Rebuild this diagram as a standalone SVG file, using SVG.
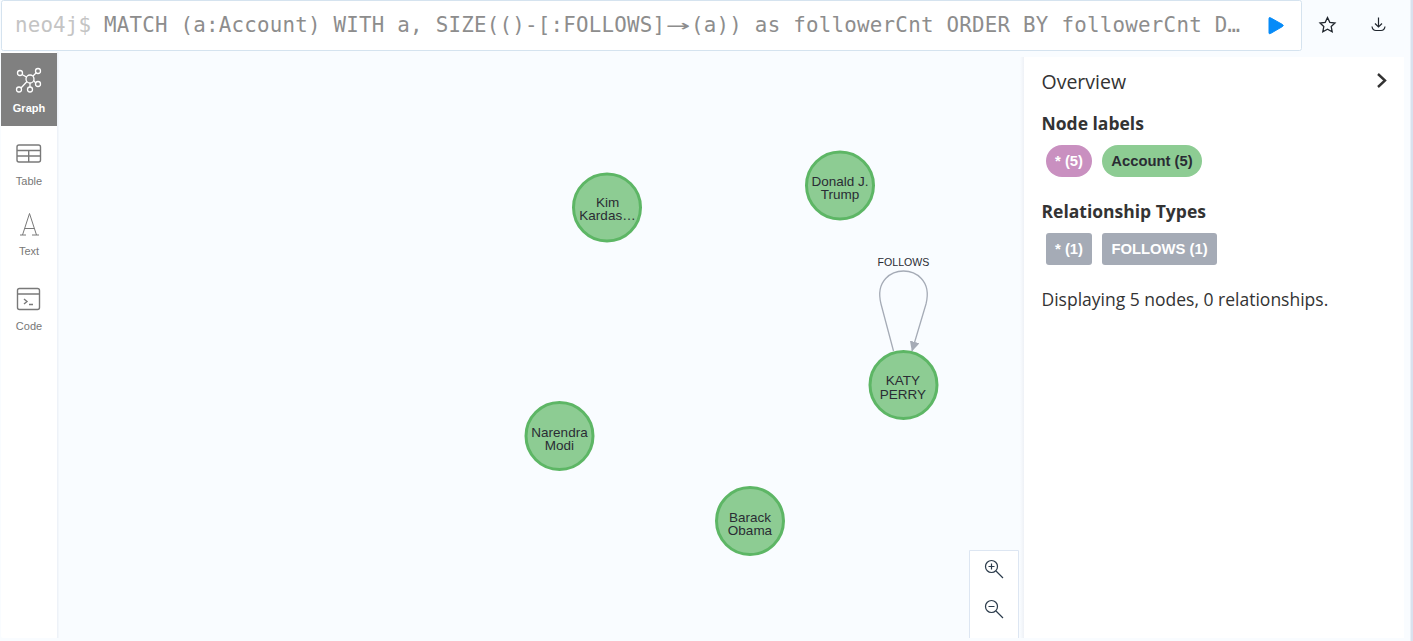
<svg xmlns="http://www.w3.org/2000/svg" width="1413" height="641" viewBox="0 0 1413 641">
<style>
.m{font-family:"DejaVu Sans Mono","Liberation Mono",monospace;font-size:20.8px;fill:#8d8d8d}
.o{font-family:"Open Sans","Noto Sans",sans-serif;fill:#333}
.s{font-family:"Liberation Sans",Arial,sans-serif}
.tab{font-size:11px;fill:#777;text-anchor:middle}
.n{fill:#8dcc93;stroke:#5db665;stroke-width:3}
.nt{font-size:13.500px;fill:#2a2c34;text-anchor:middle}
.ic{fill:none;stroke:#797979;stroke-width:1.4}
.pill{font-size:14.800px;font-weight:bold;text-anchor:middle}
.ib{fill:none;stroke:#2a3a4a;stroke-width:1.2}
</style>
<defs>
<marker id="arr" markerUnits="userSpaceOnUse" markerWidth="11" markerHeight="11" refX="9.500" refY="5" orient="auto"><path d="M0 0L10 5L0 10Z" fill="#a5abb6"/></marker>
<linearGradient id="gut"><stop offset="0" stop-color="#f9fcff"/><stop offset="1" stop-color="#eef1f6"/></linearGradient>
</defs>
<rect width="1413" height="641" fill="#f9fcff"/>
<rect x="1410.500" width="2.500" height="641" fill="#d9e1ee"/>
<g id="editor">
<rect x="1.500" y="0.500" width="1300" height="50" rx="2" fill="#fff" stroke="#d5e3ef"/>
<text class="m" x="15" y="32" textLength="76" style="fill:#c4c4c4">neo4j$</text>
<text class="m" x="104" y="32" textLength="561">MATCH (a:Account) WITH a, SIZE(()-[:FOLLOWS]</text>
<text class="m" x="666" y="32" textLength="24" lengthAdjust="spacingAndGlyphs">→</text>
<text class="m" x="691" y="32" textLength="549">(a)) as followerCnt ORDER BY followerCnt D…</text>
<path d="M1269 18.500Q1269 17 1270.500 17.800L1282.500 24.500Q1284 25.500 1282.500 26.500L1270.500 33.500Q1269 34.300 1269 33Z" fill="#068bf8" stroke="#068bf8" stroke-width="1"/>
<path d="M1327.500 17.500L1329.800 22.300L1335 23L1331.200 26.600L1332.200 31.800L1327.500 29.300L1322.800 31.800L1323.800 26.600L1320 23L1325.200 22.300Z" fill="none" stroke="#20262e" stroke-width="1.300"/>
<path d="M1378.500 17.500V26.500M1375 23.500L1378.500 27L1382 23.500M1372 26.500C1372.500 30 1374 30.500 1376 30.500H1381C1383 30.500 1384.500 30 1385 26.500" fill="none" stroke="#20262e" stroke-width="1.200"/>
</g>
<g id="sidebar">
<rect x="1" y="52" width="56.500" height="586" rx="2" fill="#fff"/>
<rect x="57" y="52" width="1.500" height="586" fill="#eef2f8"/>
<g id="tab-graph">
<rect x="1" y="53" width="56" height="73" fill="#808080"/>
<g fill="none" stroke="#fff" stroke-width="1.300">
<circle cx="30" cy="79" r="4"/><circle cx="20" cy="73" r="2.500"/><circle cx="38" cy="71" r="2.500"/><circle cx="38" cy="84" r="2.500"/><circle cx="30" cy="89.500" r="2.500"/><circle cx="19" cy="89.500" r="2.500"/>
<path d="M22 74.500L26.500 77M36.500 72.500L33 76M35.500 83L33.800 80.500M30 83V87M21 88L27 81.500"/>
</g>
<text class="s tab" x="29" y="112" style="fill:#fff;font-weight:bold">Graph</text>
</g>
<g id="tab-table">
<rect class="ic" x="17" y="145" width="23.500" height="17" rx="2"/>
<path class="ic" d="M17 150.500H40.500M17 156H40.500M28.700 150.500V162"/>
<text class="s tab" x="29" y="185">Table</text>
</g>
<g id="tab-text">
<path d="M20 235H26M32 235H39M22.500 235L29.500 213.500L36.500 235M24.500 228.500H34.500" fill="none" stroke="#797979" stroke-width="1"/>
<text class="s tab" x="29" y="255">Text</text>
</g>
<g id="tab-code">
<rect class="ic" x="17.500" y="288.500" width="22" height="21" rx="2"/>
<path class="ic" d="M17.500 294H39.500M24 299L27 301.500L24 304M29 304.500H33"/>
<text class="s tab" x="29" y="330">Code</text>
</g>
</g>
<g id="connectors">
<path d="M893.500 351L881 304C875 280 892 271 903.500 271C915 271 932 280 926 304L912 351" fill="none" stroke="#a5abb6" stroke-width="1.300" marker-end="url(#arr)"/>
<text class="s" x="903.500" y="266" font-size="10.600" fill="#2a2c34" text-anchor="middle">FOLLOWS</text>
</g>
<g id="node-kim"><circle class="n" cx="607" cy="207.500" r="33.500"/><text class="s nt" x="607.500" y="207">Kim</text><text class="s nt" x="607.500" y="220">Kardas…</text></g>
<g id="node-trump"><circle class="n" cx="840" cy="185.500" r="33.500"/><text class="s nt" x="840" y="186">Donald J.</text><text class="s nt" x="840" y="199">Trump</text></g>
<g id="node-katy"><circle class="n" cx="903.500" cy="385" r="33.500"/><text class="s nt" x="903" y="385">KATY</text><text class="s nt" x="903" y="398.500">PERRY</text></g>
<g id="node-modi"><circle class="n" cx="559.500" cy="436" r="33.500"/><text class="s nt" x="559.500" y="437">Narendra</text><text class="s nt" x="559.500" y="450">Modi</text></g>
<g id="node-obama"><circle class="n" cx="750" cy="521" r="33.500"/><text class="s nt" x="750" y="522">Barack</text><text class="s nt" x="750" y="535">Obama</text></g>
<g id="zoom-controls">
<rect x="969.500" y="550.500" width="49" height="87.500" fill="#fff"/>
<path d="M969.500 638V550.500H1018.500V638" fill="none" stroke="#dde6f2"/>
<circle class="ib" cx="991.500" cy="566.500" r="6"/><path class="ib" d="M996 571L1003 578M988.500 566.500H994.500M991.500 563.500V569.500"/>
<circle class="ib" cx="991.500" cy="606.500" r="6"/><path class="ib" d="M996 611L1003 618M988.500 606.500H994.500"/>
</g>
<g id="overview">
<rect x="1024" y="57" width="380" height="581" fill="#fff"/>
<rect x="1020" y="57" width="4" height="581" fill="url(#gut)"/>
<text class="o" x="1041.500" y="89" font-size="19.500">Overview</text>
<path d="M1378 74L1385 80.500L1378 87" fill="none" stroke="#333" stroke-width="2.400"/>
<text class="o" x="1041.500" y="130" font-size="17.500" font-weight="bold">Node labels</text>
<g id="pill-all-nodes"><rect x="1046" y="145" width="46" height="32" rx="16" fill="#c990c0"/><text class="s pill" x="1069" y="166" fill="#fff">* (5)</text></g>
<g id="pill-account"><rect x="1102" y="145" width="100" height="32" rx="16" fill="#8dcc93"/><text class="s pill" x="1152" y="166" fill="#2a2c34">Account (5)</text></g>
<text class="o" x="1041.500" y="218" font-size="17.500" font-weight="bold">Relationship Types</text>
<g id="pill-all-rels"><rect x="1046" y="233" width="46" height="32" rx="3" fill="#a5abb6"/><text class="s pill" x="1069" y="254" fill="#fff">* (1)</text></g>
<g id="pill-follows"><rect x="1102" y="233" width="115" height="32" rx="3" fill="#a5abb6"/><text class="s pill" x="1159.500" y="254" fill="#fff">FOLLOWS (1)</text></g>
<text class="o" x="1041.500" y="306" font-size="17.500">Displaying 5 nodes, 0 relationships.</text>
</g>
</svg>
